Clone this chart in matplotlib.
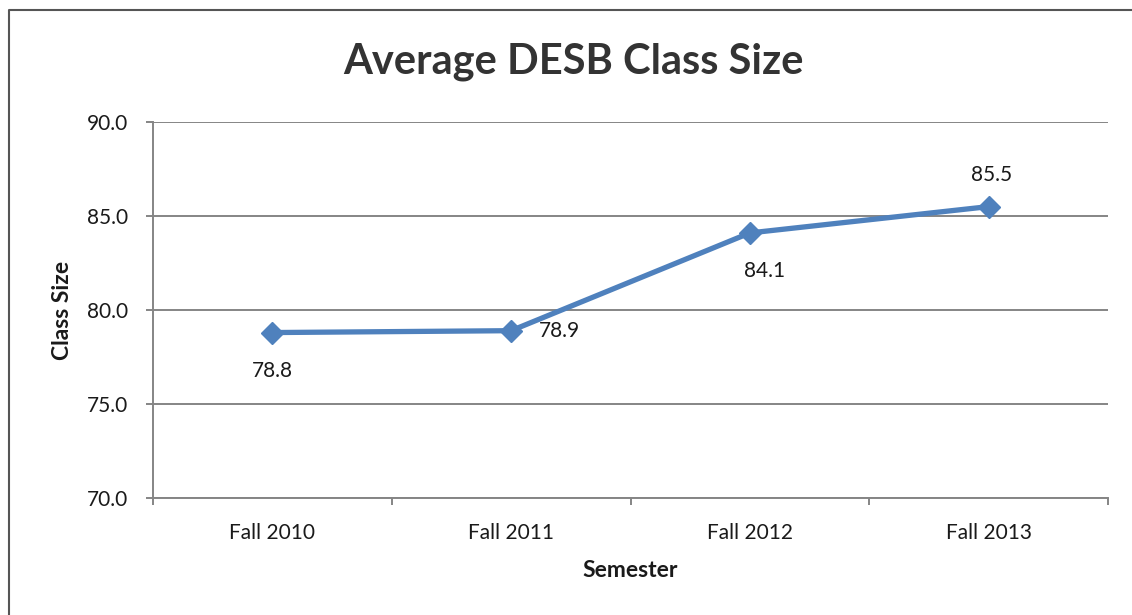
import matplotlib.pyplot as plt
from matplotlib.lines import Line2D
from matplotlib.ticker import FixedLocator

semesters = ["Fall 2010", "Fall 2011", "Fall 2012", "Fall 2013"]
class_size = [78.8, 78.9, 84.1, 85.5]
# label offsets (pixels) and alignment for each data label
label_offsets = [(0, -38), (28, 0), (15, -38), (3, 32)]
label_ha = ["center", "left", "center", "center"]

plt.rcParams["font.family"] = ["Lato", "DejaVu Sans"]

W, H = 1132, 615
fig = plt.figure(figsize=(W / 100, H / 100), dpi=100)
ax = fig.add_axes([153 / W, 1 - 498 / H, (1108 - 153) / W, (498 - 122) / H])

blue = "#4f81bd"
grid_c = "#858585"
x = list(range(len(semesters)))
ax.plot(x, class_size, color=blue, lw=3.8, marker="D", markersize=11,
        markeredgecolor=blue, markerfacecolor=blue, zorder=3)

for xi, v, off, ha in zip(x, class_size, label_offsets, label_ha):
    ax.annotate(f"{v:.1f}", (xi, v), xytext=off, textcoords="offset pixels",
                ha=ha, va="center", fontsize=15, color="#1a1a1a")

ax.set_xlim(-0.5, len(semesters) - 0.5)
ax.set_ylim(70, 90)
ax.set_yticks([70, 75, 80, 85, 90])
ax.set_yticklabels([f"{t:.1f}" for t in [70, 75, 80, 85, 90]])
ax.set_xticks(x)
ax.set_xticklabels(semesters)
ax.xaxis.set_minor_locator(FixedLocator([i - 0.5 for i in range(len(semesters) + 1)]))

ax.tick_params(axis="x", which="major", length=0, pad=18, labelsize=15, labelcolor="#1a1a1a")
ax.tick_params(axis="x", which="minor", length=5, width=1.4, color=grid_c, direction="out")
ax.tick_params(axis="y", length=5, width=1.4, color=grid_c, pad=13, labelsize=15, labelcolor="#1a1a1a")

ax.grid(axis="y", color=grid_c, lw=1.4)
ax.set_axisbelow(True)
for side in ["top", "right"]:
    ax.spines[side].set_visible(False)
for side in ["left", "bottom"]:
    ax.spines[side].set_color(grid_c)
    ax.spines[side].set_linewidth(1.4)

ax.set_ylabel("Class Size", fontsize=16.5, fontweight="bold", color="#1a1a1a", labelpad=10)
ax.set_xlabel("Semester", fontsize=16.5, fontweight="bold", color="#1a1a1a", labelpad=12)

fig.text(573 / W, 1 - 62 / H, "Average DESB Class Size", ha="center", va="center",
         fontsize=30, fontweight="bold", color="#333333")

# chart area border (left and top edges)
bx, by = 8.5 / W, 1 - 10 / H
fig.add_artist(Line2D([bx, bx, 1.0], [0.0, by, by], transform=fig.transFigure,
                      color="#555555", lw=1.5))

fig.savefig("out.png", dpi=100)
